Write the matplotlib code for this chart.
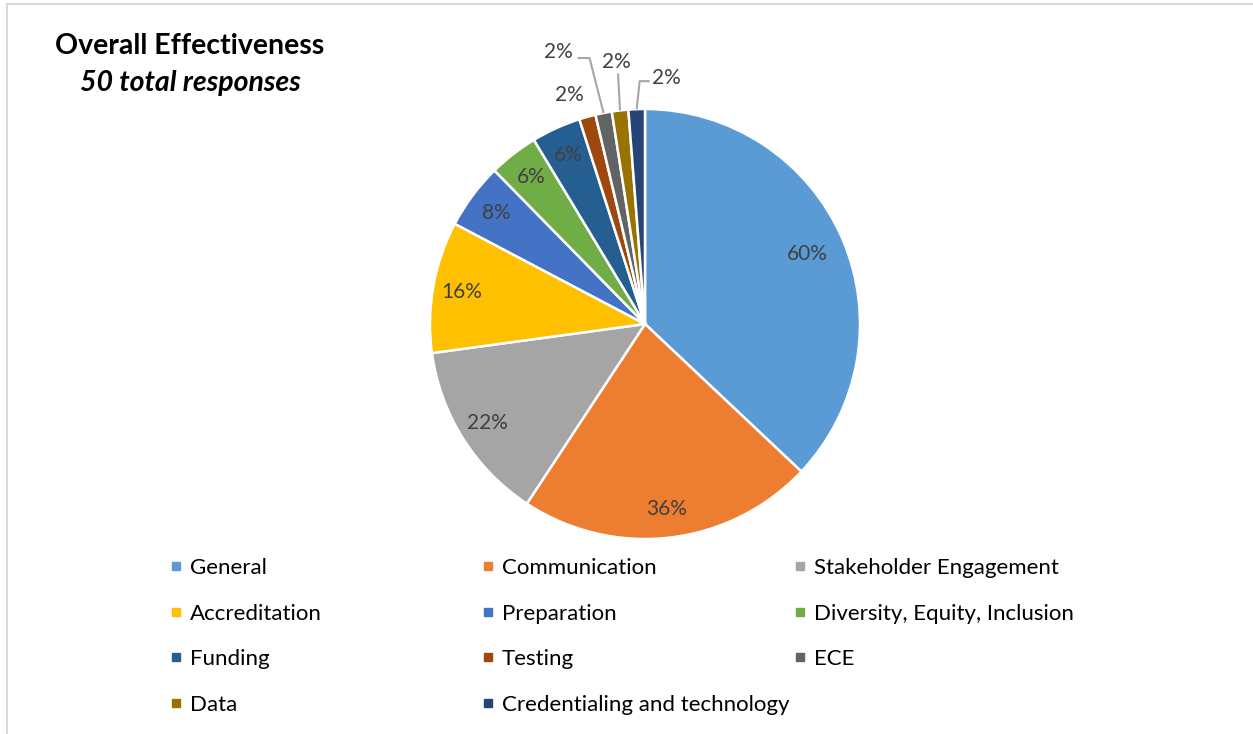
import matplotlib.pyplot as plt
from matplotlib.lines import Line2D
import numpy as np

plt.rcParams['font.family'] = ['Lato', 'DejaVu Sans']

categories = ['General', 'Communication', 'Stakeholder Engagement', 'Accreditation',
              'Preparation', 'Diversity, Equity, Inclusion', 'Funding', 'Testing',
              'ECE', 'Data', 'Credentialing and technology']
percents = [60, 36, 22, 16, 8, 6, 6, 2, 2, 2, 2]
colors = ['#5B9BD5', '#ED7D31', '#A5A5A5', '#FFC000', '#4472C4', '#70AD47',
          '#255E91', '#9E480E', '#636363', '#997300', '#264478']

W, H = 1253, 734
fig = plt.figure(figsize=(W / 100, H / 100), dpi=100)
ax = fig.add_axes([0, 0, 1, 1])

# work in pixel units, y pointing up
cx, cy, R = 645, H - 324, 215
wedges, _ = ax.pie(percents, colors=colors, startangle=90, counterclock=False,
                   center=(cx, cy), radius=R,
                   wedgeprops=dict(edgecolor='white', linewidth=1.8))
ax.set_xlim(0, W)
ax.set_ylim(0, H)
ax.set_aspect('equal')
ax.axis('off')

label_color = '#404040'
lead_color = '#A6A6A6'

# thin slices get their labels outside, some with a leader line
# index: (leader points, label offset), all offsets in px from the rim midpoint
callouts = {
    7: ([], (-18, 22)),
    8: ([(0, 0), (-14, 55), (-26, 55)], (-45, 61)),
    9: ([(0, 0), (-2, 37)], (-4, 48)),
    10: ([(0, 0), (3, 28), (13, 28)], (30, 31)),
}

for i, (w, p) in enumerate(zip(wedges, percents)):
    mid = np.deg2rad((w.theta1 + w.theta2) / 2)
    txt = f'{p}%'
    if i in callouts:
        pts, off = callouts[i]
        rx, ry = cx + R * np.cos(mid), cy + R * np.sin(mid)
        if pts:
            ax.plot([rx + dx for dx, dy in pts], [ry + dy for dx, dy in pts],
                    color=lead_color, lw=1.5, solid_capstyle='butt')
        ax.text(rx + off[0], ry + off[1], txt, ha='center', va='center',
                fontsize=15, color=label_color)
    else:
        r = 0.82 * R if i == 0 else 0.865 * R
        ax.text(cx + r * np.cos(mid), cy + r * np.sin(mid), txt,
                ha='center', va='center', fontsize=15, color=label_color)

fig.text(190 / W, 1 - 46 / H, 'Overall Effectiveness', ha='center', va='center',
         fontsize=20.5, fontweight='bold', color='black')
fig.text(190 / W, 1 - 83 / H, '50 total responses', ha='center', va='center',
         fontsize=20.5, fontweight='bold', fontstyle='italic', color='black')

# legend laid out row by row in three columns
handles = [Line2D([], [], marker='s', linestyle='none', markersize=6,
                  markerfacecolor=c, markeredgecolor=c) for c in colors]
col_left = [170, 482, 794]
for k in range(3):
    idx = list(range(k, len(categories), 3))
    leg = fig.legend([handles[j] for j in idx], [categories[j] for j in idx],
                     loc='upper left', bbox_to_anchor=(col_left[k] / W, 1 - 558 / H),
                     frameon=False, fontsize=16, handlelength=0.5,
                     handletextpad=0.38, borderpad=0, borderaxespad=0,
                     labelspacing=1.15, labelcolor='black')

# chart area border (top and left edges visible)
fig.add_artist(Line2D([7 / W, 1], [1 - 4 / H, 1 - 4 / H], color='#D9D9D9', lw=1.5))
fig.add_artist(Line2D([7 / W, 7 / W], [0, 1 - 4 / H], color='#D9D9D9', lw=1.5))

fig.savefig('out.png', dpi=100, facecolor='white')
